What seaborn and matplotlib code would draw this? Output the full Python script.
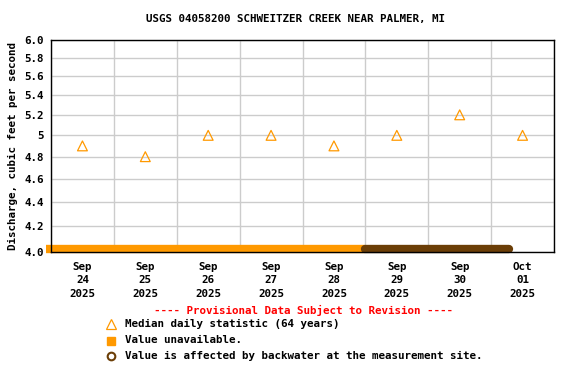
import matplotlib
matplotlib.use("Agg")
import matplotlib.pyplot as plt
import matplotlib.transforms as mtransforms
from matplotlib.ticker import FixedLocator, FixedFormatter, NullLocator
import seaborn as sns
import pandas as pd
from matplotlib.lines import Line2D
from matplotlib.patches import Rectangle

title = "USGS 04058200 SCHWEITZER CREEK NEAR PALMER, MI"
dates = ["2025-09-24", "2025-09-25", "2025-09-26", "2025-09-27",
         "2025-09-28", "2025-09-29", "2025-09-30", "2025-10-01"]
median_values = [4.9, 4.8, 5.0, 5.0, 4.9, 5.0, 5.2, 5.0]
unavailable_span = ["2025-09-23 22:00", "2025-09-29 00:00"]
backwater_span = ["2025-09-29 00:00", "2025-10-01 07:00"]
y_ticks = [4.0, 4.2, 4.4, 4.6, 4.8, 5.0, 5.2, 5.4, 5.6, 5.8, 6.0]
y_tick_labels = ["4.0", "4.2", "4.4", "4.6", "4.8", "5", "5.2", "5.4", "5.6", "5.8", "6.0"]
x_tick_labels = ["Sep\n24\n2025", "Sep\n25\n2025", "Sep\n26\n2025", "Sep\n27\n2025",
                 "Sep\n28\n2025", "Sep\n29\n2025", "Sep\n30\n2025", "Oct\n01\n2025"]

sns.set_theme(style="whitegrid")
plt.rcParams["font.family"] = ["DejaVu Sans Mono"]
plt.rcParams["font.weight"] = "bold"
plt.rcParams["text.color"] = "black"
plt.rcParams["xtick.color"] = "black"
plt.rcParams["ytick.color"] = "black"
plt.rcParams["axes.labelcolor"] = "black"

FS = 7.8

fig = plt.figure(figsize=(5.76, 3.84), dpi=100)
ax = fig.add_axes([51/576, 1 - 252/384, (554-51)/576, (252-40)/384])
ax.set_yscale("log")

df = pd.DataFrame({"date": pd.to_datetime(dates) + pd.Timedelta(hours=12),
                   "value": median_values})
sns.scatterplot(data=df, x="date", y="value", ax=ax, marker="^", s=50,
                facecolors="none", edgecolor="#ff9900", linewidth=0.9, zorder=5)

off = mtransforms.ScaledTranslation(0, 3.5/100, fig.dpi_scale_trans)
u = pd.to_datetime(unavailable_span)
ax.plot(u, [4.0, 4.0], color="#ff9900", linewidth=6, solid_capstyle="butt",
        clip_on=False, zorder=6, transform=ax.transData + off)
b = pd.to_datetime(backwater_span)
ax.plot(b, [4.0, 4.0], color="#6b3e07", linewidth=6, solid_capstyle="round",
        clip_on=False, zorder=7, transform=ax.transData + off)

x0 = pd.Timestamp("2025-09-24")
x1 = pd.Timestamp("2025-10-02")
ax.set_xlim(x0, x1)
ax.set_ylim(4.0, 6.0)
ax.set_xticks(pd.date_range(x0, x1, freq="D"))
ax.set_xticklabels([])
ax.set_xticks(df["date"], minor=True)
ax.set_xticklabels(x_tick_labels, minor=True, fontsize=FS, fontweight="bold",
                   linespacing=1.45)
ax.tick_params(axis="x", which="both", length=0, pad=7)
ax.yaxis.set_major_locator(FixedLocator(y_ticks))
ax.yaxis.set_major_formatter(FixedFormatter(y_tick_labels))
ax.yaxis.set_minor_locator(NullLocator())
ax.tick_params(axis="y", length=0, pad=5, labelsize=FS)
for lab in ax.get_yticklabels():
    lab.set_fontweight("bold")
ax.grid(True, which="major", color="#cccccc", linewidth=1)
ax.grid(False, which="minor")
for s in ax.spines.values():
    s.set_color("black")
    s.set_linewidth(1)
    s.set_zorder(8)
ax.set_xlabel("")
ax.set_ylabel("Discharge, cubic feet per second", fontsize=FS, fontweight="bold", labelpad=5)

fig.text(296/576, 1 - 19/384, title, ha="center", va="center", fontsize=FS, fontweight="bold")
fig.text(303/576, 1 - 310/384, "---- Provisional Data Subject to Revision ----",
         ha="center", va="center", fontsize=FS, fontweight="bold", color="#ff0000")

legend_items = ["Median daily statistic (64 years)", "Value unavailable.",
                "Value is affected by backwater at the measurement site."]
ys = [324, 340, 356]
fig.add_artist(Line2D([111/576], [1 - 324/384], marker="^", markersize=7,
                      markerfacecolor="none", markeredgecolor="#ff9900",
                      markeredgewidth=0.9, transform=fig.transFigure))
fig.add_artist(Rectangle((107/576, 1 - 345/384), 8/576, 8/384, color="#ff9900",
                         transform=fig.transFigure))
fig.add_artist(Line2D([111/576], [1 - 356/384], marker="o", markersize=5.5,
                      markerfacecolor="none", markeredgecolor="#6b3e07",
                      markeredgewidth=1.5, transform=fig.transFigure))
for t, y in zip(legend_items, ys):
    fig.text(125/576, 1 - y/384, t, ha="left", va="center", fontsize=FS, fontweight="bold")

fig.savefig("out.png", dpi=100, facecolor="white")
